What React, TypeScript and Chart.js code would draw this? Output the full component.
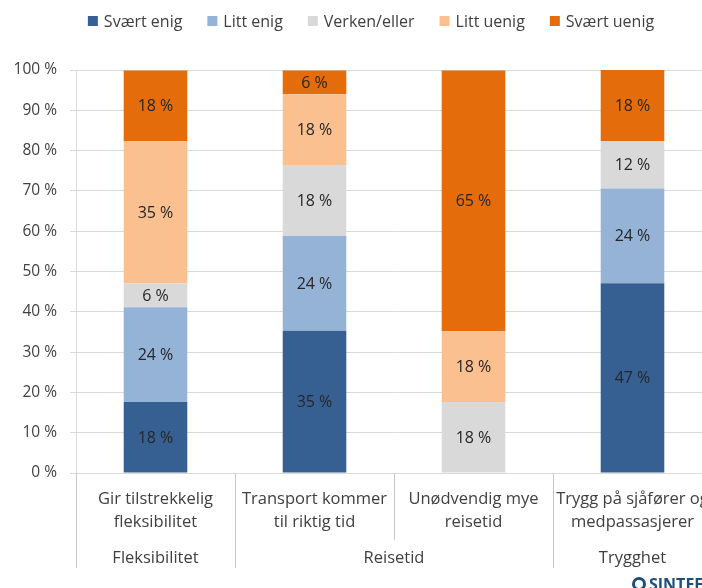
import React, { useEffect, useRef } from 'react';
import { Chart, registerables } from 'chart.js';

Chart.register(...registerables);

const categories: string[][] = [
  ['Gir tilstrekkelig', 'fleksibilitet'],
  ['Transport kommer', 'til riktig tid'],
  ['Unødvendig mye', 'reisetid'],
  ['Trygg på sjåfører og', 'medpassasjerer'],
];
const groupLabels = ['Fleksibilitet', 'Reisetid', 'Trygghet'];
const groupStart = [0, 1, 3];
const groupEnd = [0, 2, 3];

const seriesNames = ['Svært enig', 'Litt enig', 'Verken/eller', 'Litt uenig', 'Svært uenig'];
const sværtEnig = [17.6, 35.3, 0, 47.1];
const littEnig = [23.5, 23.5, 0, 23.5];
const verkenEller = [5.9, 17.6, 17.6, 11.8];
const littUenig = [35.3, 17.6, 17.6, 0];
const sværtUenig = [17.6, 5.9, 64.7, 17.6];
const seriesColors = ['#376092', '#95B3D7', '#D9D9D9', '#FAC090', '#E46C0A'];

const FONT = '"Open Sans", "Noto Sans", sans-serif';
const TEXT = '#404040';

const dataLabelPlugin = {
  id: 'dataLabels',
  afterDatasetsDraw(chart: any) {
    const ctx = chart.ctx;
    ctx.save();
    ctx.font = `16px ${FONT}`;
    ctx.fillStyle = '#262626';
    ctx.textAlign = 'center';
    ctx.textBaseline = 'middle';
    chart.data.datasets.forEach((ds: any, di: number) => {
      const meta = chart.getDatasetMeta(di);
      meta.data.forEach((el: any, i: number) => {
        const v = ds.data[i];
        if (!v) return;
        ctx.fillText(`${Math.round(v)} %`, el.x, (el.y + el.base) / 2 + 1);
      });
    });
    ctx.restore();
  },
};

const extrasPlugin = {
  id: 'extras',
  afterDraw(chart: any) {
    const ctx = chart.ctx;
    const xs = chart.scales.x;
    const bottom = chart.chartArea.bottom;
    const half = (xs.getPixelForValue(1) - xs.getPixelForValue(0)) / 2;
    const bound = (i: number) => xs.getPixelForValue(Math.min(i, 3)) + (i > 3 ? half : -half);
    ctx.save();
    // separators
    ctx.strokeStyle = '#c8c8c8';
    ctx.lineWidth = 1;
    const groupBounds = new Set<number>();
    groupStart.forEach((s) => groupBounds.add(s));
    groupBounds.add(4);
    for (let i = 0; i <= 4; i++) {
      const bx = Math.round(bound(i)) + 0.5;
      const end = groupBounds.has(i) ? bottom + 95 : bottom + 67;
      ctx.beginPath();
      ctx.moveTo(bx, bottom);
      ctx.lineTo(bx, end);
      ctx.stroke();
    }
    // group labels
    ctx.font = `16.5px ${FONT}`;
    ctx.fillStyle = TEXT;
    ctx.textAlign = 'center';
    ctx.textBaseline = 'middle';
    groupLabels.forEach((g, gi) => {
      const cx = (xs.getPixelForValue(groupStart[gi]) + xs.getPixelForValue(groupEnd[gi])) / 2;
      ctx.fillText(g, cx, bottom + 85);
    });
    // legend
    ctx.font = `16px ${FONT}`;
    ctx.textAlign = 'left';
    const widths = seriesNames.map((n) => ctx.measureText(n).width);
    const box = 10, gapBoxText = 6, gapItem = 25;
    const total = widths.reduce((a, w) => a + box + gapBoxText + w, 0) + gapItem * (seriesNames.length - 1);
    let lx = 371 - total / 2;
    const ly = 21;
    seriesNames.forEach((n, i) => {
      ctx.fillStyle = seriesColors[i];
      ctx.fillRect(lx, ly - 5, box, box);
      ctx.fillStyle = TEXT;
      ctx.fillText(n, lx + box + gapBoxText, ly + 1);
      lx += box + gapBoxText + widths[i] + gapItem;
    });
    // logo
    ctx.fillStyle = '#1F4E79';
    ctx.beginPath();
    ctx.arc(639, 584, 7, 0, Math.PI * 2);
    ctx.fill();
    ctx.fillStyle = '#ffffff';
    ctx.beginPath();
    ctx.arc(639, 584, 4, 0, Math.PI * 2);
    ctx.fill();
    ctx.fillStyle = '#1F4E79';
    ctx.font = `bold 16px ${FONT}`;
    ctx.textBaseline = 'alphabetic';
    ctx.fillText('SINTEF', 649, 590);
    ctx.restore();
  },
};

export default function App() {
  const ref = useRef<HTMLCanvasElement | null>(null);
  useEffect(() => {
    if (!ref.current) return;
    const seriesValues = [sværtEnig, littEnig, verkenEller, littUenig, sværtUenig];
    const chart = new Chart(ref.current, {
      type: 'bar',
      data: {
        labels: categories,
        datasets: seriesNames.map((name, i) => ({
          label: name,
          data: seriesValues[i],
          backgroundColor: seriesColors[i],
          borderWidth: 0,
          categoryPercentage: 1,
          barPercentage: 0.4,
        })),
      },
      options: {
        animation: false,
        responsive: false,
        maintainAspectRatio: false,
        layout: { padding: { top: 70, right: 8, left: 0, bottom: 0 } },
        plugins: { legend: { display: false }, tooltip: { enabled: false } },
        scales: {
          x: {
            stacked: true,
            grid: { display: false, drawTicks: false },
            border: { display: false },
            ticks: {
              color: TEXT,
              font: { family: FONT, size: 16.5, lineHeight: '23px' as any },
              padding: 14.5,
              maxRotation: 0,
              autoSkip: false,
            },
            afterFit: (s: any) => { s.height = 115; s.paddingLeft = 0; s.paddingRight = 0; },
          },
          y: {
            stacked: true,
            min: 0,
            max: 100,
            grid: { color: '#d9d9d9', tickLength: 6 },
            border: { display: true, color: '#d9d9d9' },
            ticks: {
              stepSize: 10,
              color: TEXT,
              padding: 13,
              font: { family: FONT, size: 15.5 },
              callback: (v: any) => `${v} %`,
            },
            afterFit: (s: any) => { s.width = 76; s.paddingTop = 0; s.paddingBottom = 0; },
          },
        },
      },
      plugins: [dataLabelPlugin, extrasPlugin],
    });
    return () => chart.destroy();
  }, []);
  return (
    <div style={{ position: 'fixed', left: 0, top: 0, width: 702, height: 588, overflow: 'hidden', background: '#ffffff' }}>
      <canvas ref={ref} width={720} height={588} style={{ display: 'block', width: 720, height: 588 }} />
    </div>
  );
}
